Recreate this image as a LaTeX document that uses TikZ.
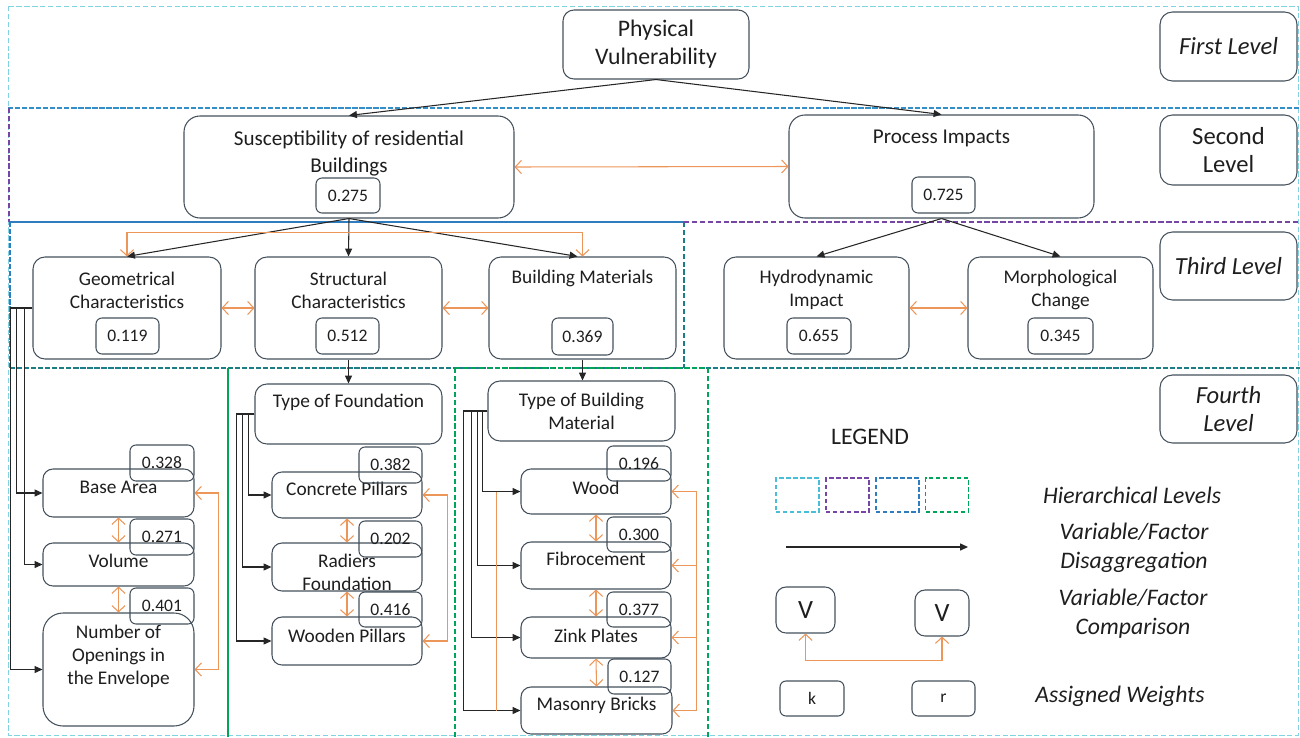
\documentclass[tikz,border=0pt]{standalone}
\usepackage{fontspec}
\setmainfont{Carlito}
\usetikzlibrary{arrows.meta}
\definecolor{boxline}{RGB}{68,80,92}
\definecolor{txtcol}{RGB}{30,30,30}
\definecolor{cmpcol}{RGB}{236,150,90}
\definecolor{lvcyan}{RGB}{75,190,215}
\definecolor{lvpurple}{RGB}{118,70,165}
\definecolor{lvblue}{RGB}{46,125,190}
\definecolor{lvsky}{RGB}{52,142,200}
\definecolor{lvteal}{RGB}{28,125,135}
\definecolor{lvgreen}{RGB}{0,165,90}
\tikzset{
  sz/.style 2 args={minimum width=#1*0.02cm,minimum height=#2*0.02cm},
  bigbox/.style={draw=boxline,line width=0.6pt,rounded corners=0.32cm,inner sep=0pt},
  midbox/.style={draw=boxline,line width=0.6pt,rounded corners=0.24cm,inner sep=0pt},
  smbox/.style={draw=boxline,line width=0.6pt,rounded corners=0.2cm,inner sep=0pt},
  wbox/.style={draw=boxline,line width=0.6pt,rounded corners=0.12cm,inner sep=0pt,text=txtcol,font=\fontsize{10}{12}\selectfont},
  lvbox/.style={draw=boxline,line width=0.6pt,rounded corners=0.25cm,inner sep=0pt,align=center,text=txtcol,font=\fontsize{14}{16}\selectfont},
  lvit/.style={lvbox,font=\fontsize{14}{16}\selectfont\itshape},
  txt2/.style={inner sep=0pt,align=center,text=txtcol,font=\fontsize{12}{15.3}\selectfont},
  txt3/.style={inner sep=0pt,align=center,text=txtcol,font=\fontsize{11}{13}\selectfont},
  legtxt/.style={inner sep=0pt,align=center,text=txtcol,font=\fontsize{13.5}{16.5}\selectfont\itshape},
  lvsq/.style={draw=#1,line width=1pt,dash pattern=on 2.5pt off 1.5pt,minimum width=0.86cm,minimum height=0.68cm,inner sep=0pt},
  disagg/.style={draw=black!85,line width=0.6pt,-{Triangle[length=4.5pt,width=4pt]}},
  cmpline/.style={draw=cmpcol,line width=0.6pt,>={Straight Barb[length=3.5pt,width=7.5pt]}},
  cmp/.style={cmpline,<->},
}
\begin{document}
\begin{tikzpicture}[x=0.02cm,y=-0.02cm]
\useasboundingbox (0,0) rectangle (1300,737);
% level frames
\draw[lvcyan!70,line width=0.5pt,dash pattern=on 3pt off 1.5pt] (8,6) rectangle (1298,735);
\draw[lvsky,line width=1.6pt,dash pattern=on 3pt off 1pt] (8,108) -- (1300,108);
\draw[lvpurple,line width=0.6pt,dash pattern=on 3pt off 1.5pt] (9,108) -- (9,222);
\draw[lvblue,line width=1.3pt] (10,222) -- (684,222);
\draw[lvblue,line width=1.6pt,dash pattern=on 3pt off 1pt] (10,222) -- (10,368);
\draw[lvteal,line width=1.1pt,dash pattern=on 3pt off 1.5pt] (684,222) -- (684,368);
\draw[lvpurple,line width=1.1pt,dash pattern=on 3pt off 1.5pt] (684,222) -- (1300,222);
\draw[lvteal,line width=1.4pt,dash pattern=on 3pt off 1pt] (10,368) -- (1300,368);
\draw[lvgreen,line width=1pt] (228,368) -- (228,737);
\draw[lvgreen,line width=1.1pt,dash pattern=on 3pt off 1.5pt] (455,368) -- (708,368) (455,368) -- (455,737) (708,368) -- (708,737);

% first and second level
\draw (656,44.5) node[bigbox,sz={186}{69},rounded corners=0.22cm,align=center,text=txtcol,font=\fontsize{13.5}{16}\selectfont](phys){Physical\\Vulnerability};
\draw (349,167) node[bigbox,sz={330}{102}](susc){};
\draw (349,153.5) node[txt2](susc-t){Susceptibility of residential\\Buildings};
\draw (348,195.5) node[wbox,sz={64}{35}](susc-w){0.275};
\draw (941.5,166.5) node[bigbox,sz={305}{103}](proc){};
\draw (941.5,138) node[txt2](proc-t){Process Impacts};
\draw (943.5,195) node[wbox,sz={63}{36}](proc-w){0.725};

% level labels
\draw (1228.5,46.5) node[lvit,sz={137}{69}](lv1){First Level};
\draw (1228.5,150) node[lvbox,sz={137}{70}](lv2){Second\\Level};
\draw (1228.5,266) node[lvit,sz={137}{68}](lv3){Third Level};
\draw (1228.5,409) node[lvit,sz={137}{68}](lv4){Fourth\\Level};

% third level
\draw (127,308) node[midbox,sz={188}{102}](geo){};
\draw (127,290) node[txt3](geo-t){Geometrical\\Characteristics};
\draw (127.5,336) node[wbox,sz={63}{36}](geo-w){0.119};
\draw (348.5,308) node[midbox,sz={187}{102}](str){};
\draw (348.5,290) node[txt3](str-t){Structural\\Characteristics};
\draw (347.5,336) node[wbox,sz={63}{36}](str-w){0.512};
\draw (582.5,308) node[midbox,sz={187}{102}](bmat){};
\draw (582.5,278) node[txt3](bmat-t){Building Materials};
\draw (582.5,336.5) node[wbox,sz={61}{37}](bmat-w){0.369};
\draw (816.5,308) node[midbox,sz={185}{102}](hyd){};
\draw (816.5,290) node[txt3](hyd-t){Hydrodynamic\\Impact};
\draw (819,336) node[wbox,sz={64}{36}](hyd-w){0.655};
\draw (1060.5,308) node[midbox,sz={185}{102}](mor){};
\draw (1060.5,290) node[txt3](mor-t){Morphological\\Change};
\draw (1060.5,336) node[wbox,sz={65}{36}](mor-w){0.345};

% fourth level, geometry
\draw (118.5,493) node[smbox,sz={151}{48}](base){};
\draw (118.5,487) node[txt3](base-t){Base Area};
\draw (162,463) node[wbox,sz={64}{36}](base-w){0.328};
\draw (118.5,564.5) node[smbox,sz={151}{43}](vol){};
\draw (118.5,561) node[txt3](vol-t){Volume};
\draw (162,537) node[wbox,sz={64}{36}](vol-w){0.271};
\draw (118.5,669.5) node[smbox,sz={151}{113},rounded corners=0.4cm](num){};
\draw (118.5,656) node[txt3](num-t){Number of\\Openings in\\the Envelope};
\draw (162,606) node[wbox,sz={64}{36}](num-w){0.401};

% fourth level, structure
\draw (348.5,414) node[midbox,sz={187}{60}](found){};
\draw (348.5,402) node[txt3](found-t){Type of Foundation};
\draw (347,495) node[smbox,sz={150}{46}](conc){};
\draw (347,489) node[txt3](conc-t){Concrete Pillars};
\draw (390.5,465) node[wbox,sz={63}{36}](conc-w){0.382};
\draw (347,567) node[smbox,sz={150}{48}](rad){};
\draw (347,572.5) node[txt3](rad-t){Radiers\\Foundation};
\draw (390.5,539) node[wbox,sz={63}{36}](rad-w){0.202};
\draw (347,641) node[smbox,sz={150}{48}](wpil){};
\draw (347,636) node[txt3](wpil-t){Wooden Pillars};
\draw (390.5,609.5) node[wbox,sz={63}{35}](wpil-w){0.416};

% fourth level, materials
\draw (581.5,411) node[midbox,txt3,sz={187}{60}](tbm){Type of Building\\Material};
\draw (596,491.5) node[smbox,sz={150}{45}](wood){};
\draw (596,488) node[txt3](wood-t){Wood};
\draw (639,463.5) node[wbox,sz={64}{35}](wood-w){0.196};
\draw (596,565.5) node[smbox,sz={150}{47}](fib){};
\draw (596,559) node[txt3](fib-t){Fibrocement};
\draw (639,534.5) node[wbox,sz={64}{35}](fib-w){0.300};
\draw (596,637.5) node[smbox,sz={150}{41}](zink){};
\draw (596,636) node[txt3](zink-t){Zink Plates};
\draw (639,609.5) node[wbox,sz={64}{35}](zink-w){0.377};
\draw (596.5,710.5) node[smbox,sz={151}{47}](mas){};
\draw (596.5,705) node[txt3](mas-t){Masonry Bricks};
\draw (639.5,676.5) node[wbox,sz={63}{35}](mas-w){0.127};

% legend
\draw (870,437) node[inner sep=0pt,text=txtcol,font=\fontsize{13.5}{16}\selectfont](leg){LEGEND};
\draw (797.5,495) node[lvsq=lvcyan](sq1){};
\draw (847.5,495) node[lvsq=lvpurple](sq2){};
\draw (897.5,495) node[lvsq=lvblue](sq3){};
\draw (947,495) node[lvsq=lvgreen](sq4){};
\coordinate (dis-a) at (786,547);
\coordinate (dis-b) at (968,547);
\draw (805.5,610) node[smbox,sz={59}{46},text=txtcol,font=\fontsize{15}{16}\selectfont](v1){V};
\draw (942,613) node[smbox,sz={54}{46},text=txtcol,font=\fontsize{15}{16}\selectfont](v2){V};
\draw (812,698.5) node[wbox,sz={64}{35}](kbox){k};
\draw (943.5,698.5) node[wbox,sz={63}{35}](rbox){r};
\draw (1132,495) node[legtxt](hier){Hierarchical Levels};
\draw (1134,547.5) node[legtxt](dis-t){Variable/Factor\\Disaggregation};
\draw (1133,613.5) node[legtxt](cmp-t){Variable/Factor\\Comparison};
\draw (1120,696) node[legtxt](wgt-t){Assigned Weights};

% disaggregation
\foreach \a/\b in {phys/susc,phys/proc,susc/geo,susc/str,proc/hyd,proc/mor,str/found}
  \draw[disagg] (\a.south) -- (\b.north);
\draw[disagg] (susc.south) -- ([xshift=-0.1cm]bmat.north);
\draw[disagg] (bmat.south) -- (bmat.south |- tbm.north);
\draw[disagg] (geo.west) -- ++(-16,0) |- (base.west);
\draw[disagg] (geo.west) -- ++(-8,0) |- (vol.west);
\draw[disagg] (geo.west) -- ++(-22,0) |- (num.west);
\draw[disagg] (found.west) -- ++(-6,0) |- (conc.west);
\draw[disagg] (found.west) -- ++(-12,0) |- (rad.west);
\draw[disagg] (found.west) -- ++(-18,0) |- (wpil.west);
\draw[disagg] (tbm.west) -- ++(-5,0) |- (wood.west);
\draw[disagg] (tbm.west) -- ++(-10,0) |- (fib.west);
\draw[disagg] (tbm.west) -- ++(-16,0) |- (zink.west);
\draw[disagg] (tbm.west) -- ++(-24,0) |- (mas.west);
\draw[disagg] (dis-a) -- (dis-b);

% comparison
\draw[cmp] (susc.east) -- (proc.west);
\draw[cmp] (geo.north) -- ++(0,-24) -| (bmat.north);
\draw[cmp] (geo.east) -- (str.west);
\draw[cmp] (str.east) -- (bmat.west);
\draw[cmp] (hyd.east) -- (mor.west);
\draw[cmp] (base.south) -- (vol.north);
\draw[cmp] (vol.south) -- (num.north);
\draw[cmp] (base.east) -- ++(24,0) |- (num.east);
\draw[cmp] (conc.south) -- (rad.north);
\draw[cmp] (rad.south) -- (wpil.north);
\draw[cmp] (conc.east) -- ++(25,0) |- (wpil.east);
\draw[cmp] (wood.south) -- (fib.north);
\draw[cmp] (fib.south) -- (zink.north);
\draw[cmp] (zink.south) -- (mas.north);
\draw[cmp] (wood.east) -- ++(25,0) |- (mas.east);
\draw[cmpline,<-] (fib.east) -- ++(25,0);
\draw[cmpline,<-] (zink.east) -- ++(25,0);
\draw[cmpline] ([xshift=-0.48cm]wood.west) -- ([xshift=-0.48cm]mas.west);
\draw[cmp] (v1.south) -- ++(0,27) -| (v2.south);
\end{tikzpicture}
\end{document}
